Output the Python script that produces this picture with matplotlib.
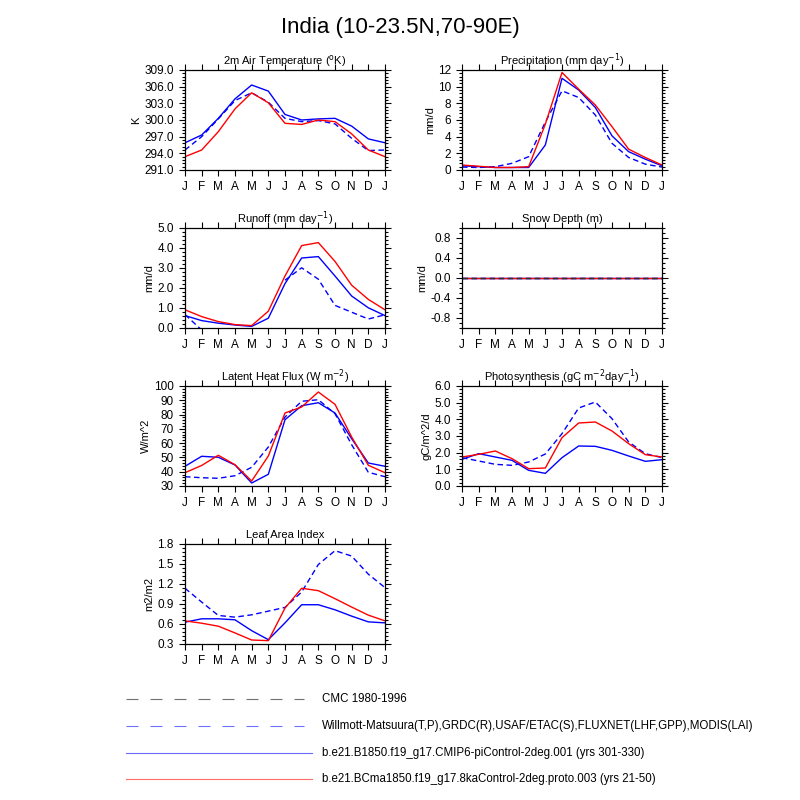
import numpy as np
import matplotlib
matplotlib.use("Agg")
import matplotlib.pyplot as plt
from matplotlib.lines import Line2D
from matplotlib.ticker import MultipleLocator, AutoMinorLocator, FormatStrFormatter

plt.rcParams['font.family'] = ['Liberation Sans', 'DejaVu Sans']

months = ['J', 'F', 'M', 'A', 'M', 'J', 'J', 'A', 'S', 'O', 'N', 'D', 'J']

# 2m air temperature (K)
tsa_obs = [294.6, 297.0, 300.2, 303.5, 304.9, 303.2, 300.3, 299.7, 299.9, 299.3, 296.7, 294.5, 294.6]
tsa_ctl = [295.9, 297.3, 300.3, 303.8, 306.3, 305.2, 301.0, 300.0, 300.2, 300.3, 298.9, 296.6, 295.9]
tsa_8ka = [293.4, 294.6, 297.9, 302.0, 304.9, 303.1, 299.4, 299.2, 300.0, 299.7, 297.5, 294.6, 293.4]

# precipitation (mm/d)
pr_obs = [0.35, 0.3, 0.4, 0.8, 1.6, 5.75, 9.5, 8.7, 6.6, 3.2, 1.5, 0.7, 0.35]
pr_ctl = [0.5, 0.4, 0.3, 0.3, 0.3, 3.0, 11.0, 9.6, 7.5, 4.1, 2.2, 1.3, 0.5]
pr_8ka = [0.6, 0.45, 0.3, 0.3, 0.4, 5.5, 11.7, 9.7, 7.8, 5.2, 2.5, 1.5, 0.6]

# runoff (mm/d)
ro_obs = [0.67, -0.1, np.nan, np.nan, np.nan, np.nan, 2.39, 3.01, 2.44, 1.13, 0.79, 0.45, 0.66]
ro_ctl = [0.62, 0.37, 0.24, 0.15, 0.08, 0.49, 2.22, 3.5, 3.57, 2.6, 1.6, 1.01, 0.62]
ro_8ka = [0.91, 0.57, 0.32, 0.17, 0.12, 0.84, 2.6, 4.12, 4.27, 3.33, 2.14, 1.43, 0.91]

# snow depth (m)
sd_cmc = [0.0] * 13
sd_obs = [0.0] * 13
sd_ctl = [0.0] * 13
sd_8ka = [0.0] * 13

# latent heat flux (W/m^2)
lh_obs = [36.5, 35.8, 35.4, 37.2, 43.1, 57.3, 78.3, 89.3, 90.4, 80.6, 58.9, 39.6, 36.5]
lh_ctl = [43.8, 50.8, 50.1, 44.7, 32.1, 38.2, 76.4, 86.2, 88.3, 81.1, 63.1, 46.1, 43.8]
lh_8ka = [39.3, 44.4, 51.5, 44.9, 33.5, 51.0, 81.1, 85.3, 95.8, 87.2, 64.3, 44.5, 39.3]

# photosynthesis (gC/m^2/d)
gpp_obs = [1.7, 1.5, 1.3, 1.24, 1.44, 1.92, 3.14, 4.68, 5.04, 4.04, 2.64, 1.94, 1.7]
gpp_ctl = [1.6, 1.94, 1.74, 1.54, 0.94, 0.76, 1.7, 2.4, 2.38, 2.14, 1.8, 1.48, 1.58]
gpp_8ka = [1.74, 1.9, 2.1, 1.64, 1.04, 1.08, 2.9, 3.78, 3.84, 3.3, 2.54, 1.88, 1.74]

# leaf area index (m2/m2)
lai_obs = [1.136, 0.929, 0.728, 0.703, 0.738, 0.793, 0.849, 1.08, 1.493, 1.70, 1.619, 1.347, 1.146]
lai_ctl = [0.627, 0.678, 0.678, 0.663, 0.5, 0.365, 0.617, 0.889, 0.889, 0.813, 0.718, 0.632, 0.617]
lai_8ka = [0.647, 0.612, 0.567, 0.466, 0.36, 0.35, 0.839, 1.136, 1.10, 0.98, 0.854, 0.733, 0.647]

legend_labels = [
    'CMC 1980-1996',
    'Willmott-Matsuura(T,P),GRDC(R),USAF/ETAC(S),FLUXNET(LHF,GPP),MODIS(LAI)',
    'b.e21.B1850.f19_g17.CMIP6-piControl-2deg.001 (yrs 301-330)',
    'b.e21.BCma1850.f19_g17.8kaControl-2deg.proto.003 (yrs 21-50)',
]

x = np.arange(len(months))

fig = plt.figure(figsize=(8, 8), dpi=100)
fig.text(0.5, 0.965, 'India (10-23.5N,70-90E)', ha='center', va='center', fontsize=16)

col_x = [0.23125, 0.5775]
row_b = [0.7875, 0.59, 0.3925, 0.195]
w, h = 0.25, 0.125


def panel(col, row, title, ylabel, ylim, major, fmt, obs, ctl, ka, cmc=None):
    ax = fig.add_axes([col_x[col], row_b[row], w, h])
    ax.plot(x, obs, color='blue', lw=1.0, dashes=(4, 2.5))
    ax.plot(x, ctl, color='blue', lw=1.0)
    ax.plot(x, ka, color='red', lw=1.0)
    if cmc is not None:
        ax.plot(x, cmc, color='#303030', lw=1.0, dashes=(4, 2.5))
    ax.set_xlim(0, 12)
    ax.set_ylim(*ylim)
    ax.set_xticks(x)
    ax.set_xticklabels(months)
    ax.yaxis.set_major_locator(MultipleLocator(major))
    ax.yaxis.set_minor_locator(AutoMinorLocator(5))
    ax.yaxis.set_major_formatter(FormatStrFormatter(fmt))
    ax.tick_params(which='both', direction='out', top=True, right=True,
                   labelsize=8.5, width=0.8)
    ax.tick_params(which='major', length=4, pad=4)
    ax.tick_params(which='minor', length=2)
    ax.set_title(title, fontsize=8, pad=4)
    ax.set_ylabel(ylabel, fontsize=8, labelpad=2)
    for s in ax.spines.values():
        s.set_linewidth(0.9)
    return ax


panel(0, 0, '2m Air Temperature ($^{\\mathrm{o}}$K)', 'K', (291, 309), 3, '%.1f',
      tsa_obs, tsa_ctl, tsa_8ka)
panel(1, 0, 'Precipitation (mm day$^{-1}$)', 'mm/d', (0, 12), 2, '%d',
      pr_obs, pr_ctl, pr_8ka)
panel(0, 1, 'Runoff (mm day$^{-1}$)', 'mm/d', (0, 5), 1, '%.1f',
      ro_obs, ro_ctl, ro_8ka)
panel(1, 1, 'Snow Depth (m)', 'mm/d', (-1, 1), 0.4, '%.1f',
      sd_obs, sd_ctl, sd_8ka, cmc=sd_cmc)
panel(0, 2, 'Latent Heat Flux (W m$^{-2}$)', 'W/m^2', (30, 100), 10, '%d',
      lh_obs, lh_ctl, lh_8ka)
panel(1, 2, 'Photosynthesis (gC m$^{-2}$day$^{-1}$)', 'gC/m^2/d', (0, 6), 1, '%.1f',
      gpp_obs, gpp_ctl, gpp_8ka)
panel(0, 3, 'Leaf Area Index', 'm2/m2', (0.3, 1.8), 0.3, '%.1f',
      lai_obs, lai_ctl, lai_8ka)

# snow depth ticks sit at -0.8, -0.4, ...
sd_ax = fig.axes[3]
sd_ax.set_yticks([-0.8, -0.4, 0.0, 0.4, 0.8])
sd_ax.yaxis.set_minor_locator(MultipleLocator(0.1))

# legend drawn by hand below the panels
leg_y = [0.126, 0.0925, 0.05875, 0.026]
leg_style = [
    dict(color='#707070', dashes=(10.8, 10.8), x1=0.38),
    dict(color='#7070ff', dashes=(10.8, 10.8), x1=0.38),
    dict(color='#6a6aff', dashes=None, x1=0.39),
    dict(color='#ff6a6a', dashes=None, x1=0.39),
]
for y, lab, st in zip(leg_y, legend_labels, leg_style):
    ln = Line2D([0.1575, st['x1']], [y, y], transform=fig.transFigure,
                color=st['color'], lw=0.8)
    if st['dashes']:
        ln.set_dashes(st['dashes'])
    fig.add_artist(ln)
    fig.text(0.4025, y, lab, fontsize=8.3, va='center', ha='left')

fig.savefig('out.png', dpi=100)
